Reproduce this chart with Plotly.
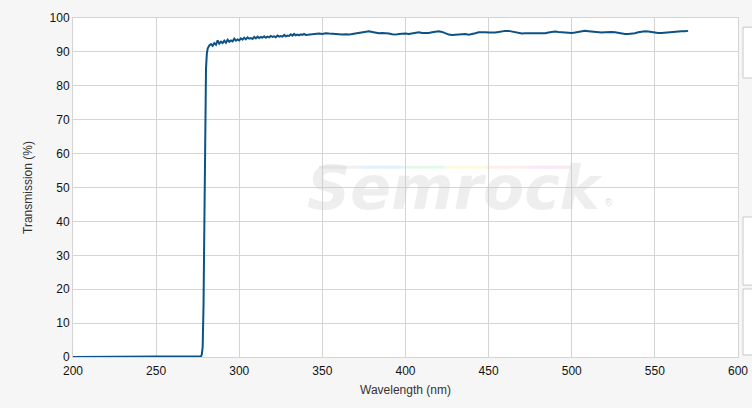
import plotly.graph_objects as go

# Wavelength (nm) and transmission (%)
wavelength = [200, 240, 276, 277, 277.5, 278, 278.5, 279, 279.5, 280, 280.5, 281,
              282, 283, 284, 285, 286, 287, 288, 289, 290, 291, 292, 293, 294, 295,
              296, 297, 298, 299, 300, 301, 302, 303, 304, 305, 306, 307, 308, 309,
              310, 311, 312, 313, 314, 315, 316, 317, 318, 319, 320, 321, 322, 323,
              324, 325, 326, 327, 328, 329, 330, 331, 332, 333, 334, 335, 336, 337,
              338, 339, 340,
              342, 344, 346, 348, 350, 352, 354, 356, 358, 360, 362, 364, 366, 368,
              370, 372, 374, 376, 378, 380, 382, 384, 386, 388, 390, 392, 394, 396,
              398, 400, 402, 404, 406, 408, 410, 412, 414, 416, 418, 420, 422, 424,
              426, 428, 430, 432, 434, 436, 438, 440, 442, 444, 446, 448, 450, 452,
              454, 456, 458, 460, 462, 464, 466, 468, 470, 472, 474, 476, 478, 480,
              482, 484, 486, 488, 490, 492, 494, 496, 498, 500, 502, 504, 506, 508,
              510, 512, 514, 516, 518, 520, 522, 524, 526, 528, 530, 532, 534, 536,
              538, 540, 542, 544, 546, 548, 550, 552, 554, 556, 558, 560, 562, 564,
              566, 568, 570]

transmission = [0, 0, 0, 0.2, 0.8, 3, 15, 45, 72, 85, 89.5, 91,
                91.9, 92.3, 91.8, 92.6, 92.1, 93.4, 92.4, 93.0, 92.6, 93.3, 92.7, 93.6, 93.0, 93.4,
                93.1, 93.9, 93.3, 93.7, 93.4, 94.0, 93.6, 94.2, 93.7, 94.3, 93.9, 94.1, 93.8, 94.4,
                94.0, 94.5, 94.1, 94.4, 94.2, 94.6, 94.2, 94.5, 94.3, 94.7, 94.4, 94.6, 94.3, 94.8,
                94.5, 94.7, 94.5, 95.0, 94.6, 94.8, 94.7, 95.2, 94.8, 95.3, 94.9, 95.1, 94.9, 95.2,
                95.0, 95.3, 95.0,
                95.1, 95.3, 95.2, 95.4, 95.3, 95.5, 95.4, 95.3, 95.4, 95.2, 95.1, 95.2, 95.1, 95.3,
                95.5, 95.6, 95.8, 96.0, 96.1, 95.9, 95.7, 95.5, 95.6, 95.6, 95.4, 95.2, 95.1, 95.3,
                95.4, 95.4, 95.3, 95.4, 95.7, 95.8, 95.6, 95.5, 95.6, 95.8, 96.0, 96.1, 95.9, 95.5,
                95.1, 95.0, 95.1, 95.3, 95.4, 95.3, 95.1, 95.2, 95.5, 95.8, 95.9, 95.8, 95.7, 95.6,
                95.7, 95.9, 96.1, 96.2, 96.2, 96.0, 95.7, 95.5, 95.4, 95.5, 95.5, 95.6, 95.5, 95.4,
                95.4, 95.5, 95.7, 95.9, 96.0, 95.9, 95.8, 95.6, 95.6, 95.6, 95.7, 95.9, 96.1, 96.2,
                96.1, 96.0, 95.8, 95.7, 95.7, 95.8, 95.9, 95.9, 95.8, 95.6, 95.4, 95.3, 95.3, 95.3,
                95.5, 95.8, 96.0, 96.1, 96.0, 95.8, 95.6, 95.6, 95.6, 95.7, 95.9, 96.0, 96.1, 96.2,
                96.1, 96.1, 96.2]

x_ticks = [200, 250, 300, 350, 400, 450, 500, 550, 600]
y_ticks = [0, 10, 20, 30, 40, 50, 60, 70, 80, 90, 100]

LINE_COLOR = "#0b5286"
GRID = "#d4d4d4"
FONT = "Liberation Sans, Arial, sans-serif"

fig = go.Figure()
fig.add_trace(go.Scatter(
    x=wavelength, y=transmission, mode="lines",
    line=dict(color=LINE_COLOR, width=2),
    hoverinfo="x+y", showlegend=False,
))

# Watermark
fig.add_annotation(
    text="<b><i>Semrock</i></b>", xref="paper", yref="paper",
    x=0.575, y=0.50, xanchor="center", yanchor="middle", showarrow=False,
    font=dict(family="DejaVu Sans, sans-serif", size=60, color="rgba(200,200,200,0.3)"),
)
fig.add_annotation(
    text="®", xref="paper", yref="paper", x=0.797, y=0.455,
    xanchor="left", yanchor="middle", showarrow=False,
    font=dict(family=FONT, size=10, color="rgba(190,190,190,0.5)"),
)

shapes = []
# faint rainbow stripe above watermark
stripe = ["rgba(200,200,200,0.25)", "rgba(160,210,240,0.3)", "rgba(170,235,190,0.3)",
          "rgba(245,240,170,0.35)", "rgba(250,200,180,0.3)", "rgba(240,180,220,0.3)"]
x0 = 0.37
for i, c in enumerate(stripe):
    shapes.append(dict(type="line", xref="paper", yref="paper",
                       x0=x0 + i * 0.063, x1=x0 + (i + 1) * 0.063, y0=0.56, y1=0.56,
                       line=dict(color=c, width=3)))
# right-side panel boxes
for (y0, y1) in [(0.823, 0.973), (0.212, 0.413), (0.006, 0.2006)]:
    shapes.append(dict(type="rect", xref="paper", yref="paper",
                       x0=1.0075, x1=1.05, y0=y0, y1=y1,
                       line=dict(color="#c8c8c8", width=1), fillcolor="white"))

fig.update_layout(
    width=752, height=408, autosize=False,
    margin=dict(l=73, r=14, t=18, b=51, autoexpand=False),
    paper_bgcolor="#f6f6f6", plot_bgcolor="white",
    font=dict(family=FONT, size=12, color="#222"),
    shapes=shapes,
    xaxis=dict(
        range=[200, 600], tickvals=x_ticks, ticktext=[str(v) for v in x_ticks],
        showgrid=True, gridcolor=GRID, gridwidth=1, zeroline=False,
        showline=True, linecolor=GRID, mirror=True, ticks="", automargin=False,
        ticklabelstandoff=3,
        title=dict(text="Wavelength (nm)", font=dict(size=12, color="#333"), standoff=8),
        tickfont=dict(size=12, color="#111"),
    ),
    yaxis=dict(
        range=[0, 100], tickvals=y_ticks, ticktext=[str(v) for v in y_ticks],
        showgrid=True, gridcolor=GRID, gridwidth=1, zeroline=False,
        showline=True, linecolor=GRID, mirror=True, ticks="", automargin=False,
        title=dict(text="Transmission (%)", font=dict(size=12, color="#333"), standoff=14),
        tickfont=dict(size=12, color="#111"),
    ),
)

fig.write_html("out.html", config={"displayModeBar": False},
               post_script="document.body.style.margin='0';")
